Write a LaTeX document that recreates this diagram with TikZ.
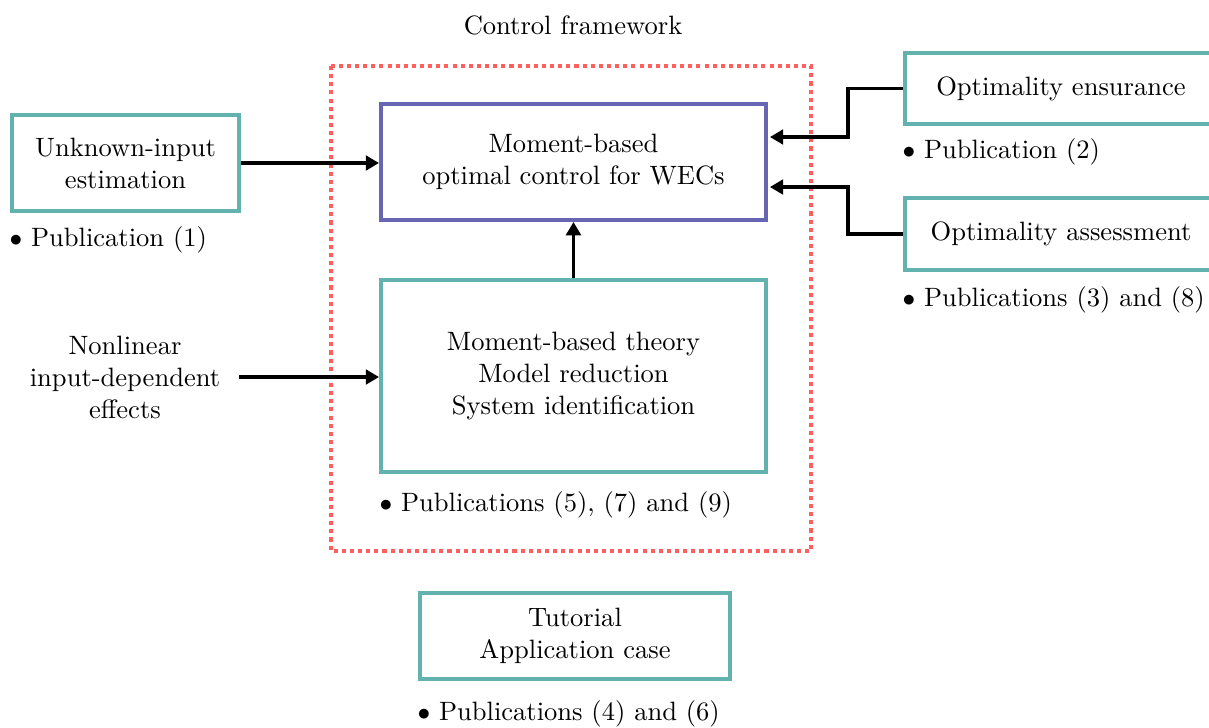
\documentclass[tikz,border=0pt]{standalone}
\usetikzlibrary{arrows.meta}
\definecolor{tealc}{RGB}{98,179,176}
\definecolor{bluec}{RGB}{102,102,178}
\definecolor{redc}{RGB}{255,95,95}
\newlength\upx
\setlength\upx{0.3937pt}
\tikzset{
  every node/.style={font=\fontsize{10.45}{12.6}\selectfont},
  tealbox/.style={draw=tealc, line width=1.6pt, align=center, inner sep=0pt},
  bluebox/.style={draw=bluec, line width=1.6pt, align=center, inner sep=0pt},
  plain/.style={align=center, inner sep=0pt},
  pub/.style={anchor=west, inner sep=0pt},
  arr/.style={line width=1.2pt, -{Triangle[length=5.2pt,width=5.8pt]}},
  frame/.style={draw=redc, line width=1.6pt, dash pattern=on 1.6pt off 1.6pt},
}
\begin{document}
\begin{tikzpicture}[x=0.3937pt, y=-0.3937pt]
\useasboundingbox (0,0) rectangle (1209,727);
\draw[frame] (331,66) rectangle (811,551);
\node[plain] (title) at (573,25) {Control framework};
\node[bluebox, minimum width=385*\upx, minimum height=116*\upx] (moc) at (573.5,162) {Moment-based\\optimal control for WECs};
\node[tealbox, minimum width=385*\upx, minimum height=192*\upx] (mbt) at (573.5,376) {Moment-based theory\\Model reduction\\System identification};
\node[pub] (p579) at (379,505) {$\bullet$ Publications (5), (7) and (9)};
\node[tealbox, minimum width=227*\upx, minimum height=96*\upx] (uie) at (125.5,163) {Unknown-input\\estimation};
\node[pub] (p1) at (9,240) {$\bullet$ Publication (1)};
\node[plain] (nle) at (125,377) {Nonlinear\\input-dependent\\effects};
\coordinate (nlee) at (239,377);
\node[tealbox, minimum width=312*\upx, minimum height=71*\upx] (ens) at (1061,88.5) {Optimality ensurance};
\node[pub] (p2) at (902,152) {$\bullet$ Publication (2)};
\node[tealbox, minimum width=312*\upx, minimum height=72*\upx] (ass) at (1061,234) {Optimality assessment};
\node[pub] (p38) at (902,300) {$\bullet$ Publications (3) and (8)};
\node[tealbox, minimum width=310*\upx, minimum height=86*\upx] (tut) at (575,636) {Tutorial\\Application case};
\node[pub] (p46) at (417,714) {$\bullet$ Publications (4) and (6)};
\coordinate (t1) at (770,137);
\coordinate (t2) at (770,187);
\draw[arr] (uie.east) -- (uie.east -| moc.west);
\draw[arr] (nlee) -- (nlee -| mbt.west);
\draw[arr] (mbt.north) -- (moc.south);
\draw[arr] (ens.west) -| (848,137) -- (t1);
\draw[arr] (ass.west) -| (848,187) -- (t2);
\end{tikzpicture}
\end{document}
